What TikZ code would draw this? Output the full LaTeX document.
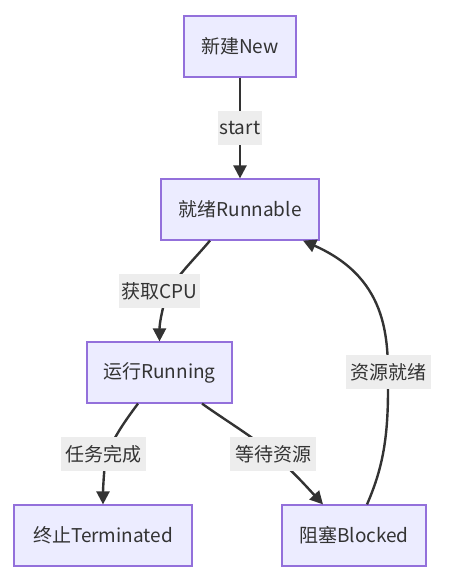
\documentclass[tikz,border=0pt]{standalone}
\usepackage{fontspec}
\setmainfont{Noto Sans CJK SC}
\usetikzlibrary{arrows.meta}
\definecolor{nodefill}{HTML}{ECECFF}
\definecolor{nodeline}{HTML}{9370DB}
\definecolor{edgecol}{HTML}{333333}
\definecolor{lblfill}{HTML}{EDEDED}
\begin{document}
\begin{tikzpicture}[x=1pt,y=-1pt,
  state/.style={draw=nodeline,fill=nodefill,line width=1.2pt,rectangle,inner sep=0pt,
    font=\fontsize{19}{23}\selectfont,text=edgecol},
  lbl/.style={fill=lblfill,inner sep=0pt,font=\fontsize{19}{23}\selectfont,text=edgecol},
  edge/.style={draw=edgecol,line width=2.4pt,-{Triangle[length=13pt,width=13pt]}}]
\useasboundingbox (0,0) rectangle (449,581);
% nodes
\node[state,minimum width=112pt,minimum height=61pt] (new) at (240,46.5) {新建New};
\node[state,minimum width=158pt,minimum height=61pt] (rn) at (240,209.5) {就绪Runnable};
\node[state,minimum width=145pt,minimum height=61pt] (ru) at (159.5,372.5) {运行Running};
\node[state,minimum width=178pt,minimum height=61pt] (te) at (103,535.5) {终止Terminated};
\node[state,minimum width=144pt,minimum height=61pt] (bl) at (354,535.5) {阻塞Blocked};
% edges
\draw[edge] (new.south) -- (rn.north);
\draw[edge] ([xshift=-30pt]rn.south) .. controls (192,262) and (172,280) .. (165,300)
   .. controls (161,315) and (159.5,325) .. (ru.north);
\draw[edge] ([xshift=-21.5pt]ru.south) .. controls (122,425) and (106,448) .. (104.5,468)
   .. controls (103.5,480) and (103,490) .. (te.north);
\draw[edge] ([xshift=42.5pt]ru.south) .. controls (225,420) and (250,435) .. (268,450)
   .. controls (290,468) and (305,485) .. ([xshift=-31pt]bl.north);
\draw[edge] ([xshift=13pt]bl.north) .. controls (382,470) and (388,440) .. (388,390)
   .. controls (388,345) and (392,280) .. ([xshift=63pt]rn.south);
% labels
\node[lbl,minimum width=44pt,minimum height=34pt] (l1) at (240,128) {start};
\node[lbl,minimum width=81pt,minimum height=34pt] (l2) at (159.5,291) {获取CPU};
\node[lbl,minimum width=85pt,minimum height=34pt] (l3) at (103.5,454) {任务完成};
\node[lbl,minimum width=86pt,minimum height=34pt] (l4) at (273,454) {等待资源};
\node[lbl,minimum width=85pt,minimum height=34pt] (l5) at (388.5,372) {资源就绪};
\end{tikzpicture}
\end{document}
